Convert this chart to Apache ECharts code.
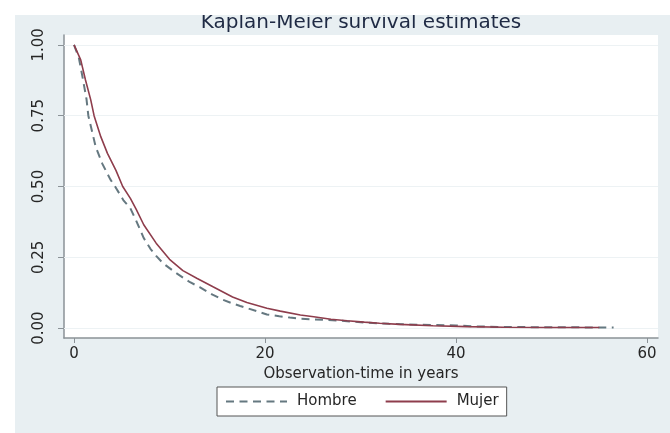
<!DOCTYPE html>
<html>
<head>
<meta charset="utf-8">
<script src="https://cdn.jsdelivr.net/npm/echarts@6/dist/echarts.min.js"></script>
<style>
html,body{margin:0;padding:0;background:#fff;}
#chart{width:670px;height:433px;}
</style>
</head>
<body>
<div id="chart"></div>
<script>
// ---- data ----
const titleText = 'Kaplan-Meier survival estimates';
const xAxisTitle = 'Observation-time in years';
const seriesNames = ['Hombre', 'Mujer'];
const xTicks = [0, 20, 40, 60];
const yTicks = [0, 0.25, 0.5, 0.75, 1];

const timeHombre = [0, 0.2, 0.5, 0.87, 1.3, 1.5, 2.27, 2.97, 3.8, 4.3, 5.2, 5.9, 6.5, 7.3, 8.0, 8.6, 9.35, 10.75, 12.15, 13.2, 14.5, 15.6, 16.6, 17.4, 19.1, 20.2, 21.5, 22.6, 23.7, 25.0, 26.1, 27.5, 30.6, 33.0, 35.9, 38.0, 40.0, 42.0, 44.5, 50.0, 56.5];
const survHombre = [1.0, 1.0, 0.955, 0.89, 0.81, 0.75, 0.64, 0.58, 0.525, 0.5, 0.45, 0.423, 0.38, 0.318, 0.28, 0.255, 0.228, 0.193, 0.162, 0.144, 0.118, 0.1, 0.087, 0.078, 0.06, 0.048, 0.042, 0.037, 0.033, 0.031, 0.029, 0.027, 0.019, 0.015, 0.012, 0.011, 0.009, 0.006, 0.004, 0.003, 0.002];

const timeMujer = [0, 0.2, 0.7, 1.2, 1.75, 2.1, 2.8, 3.5, 4.4, 5.1, 5.9, 6.5, 7.3, 8.6, 10.0, 11.4, 12.9, 14.6, 16.6, 18.1, 20.2, 21.6, 23.7, 25.1, 26.9, 28.6, 30.4, 32.0, 34.1, 37.6, 41.1, 45.0, 50.0, 55.0];
const survMujer = [1.0, 1.0, 0.947, 0.876, 0.806, 0.75, 0.676, 0.617, 0.556, 0.5, 0.458, 0.42, 0.365, 0.3, 0.243, 0.203, 0.175, 0.145, 0.11, 0.09, 0.07, 0.06, 0.046, 0.04, 0.031, 0.026, 0.021, 0.017, 0.013, 0.008, 0.005, 0.003, 0.002, 0.002];

const pairs = (xs, ys) => xs.map((x, i) => [x, ys[i]]);

const FONT = 'DejaVu Sans';
const AXIS_COLOR = '#8b9297';
const TEXT_COLOR = '#262626';

const chart = echarts.init(document.getElementById('chart'), null, {renderer: 'canvas'});
chart.setOption({
  animation: false,
  backgroundColor: '#e8eff2',
  title: {
    text: titleText,
    left: 361,
    textAlign: 'center',
    top: 13,
    padding: 0,
    textStyle: {fontFamily: FONT, fontSize: 20, fontWeight: 'normal', color: '#1f2a44'}
  },
  graphic: [
    {type: 'rect', z: 100, shape: {x: 0, y: 0, width: 670, height: 15}, style: {fill: '#ffffff'}},
    {type: 'rect', z: 100, shape: {x: 0, y: 0, width: 15, height: 433}, style: {fill: '#ffffff'}}
  ],
  grid: {
    left: 64, right: 12, top: 35, bottom: 95,
    show: true, backgroundColor: '#ffffff', borderWidth: 0
  },
  legend: {
    left: 217, top: 387,
    orient: 'horizontal',
    padding: [7, 8, 7, 8],
    itemWidth: 61, itemHeight: 16, itemGap: 28,
    itemStyle: {opacity: 0},
    backgroundColor: '#ffffff',
    borderColor: '#555',
    borderWidth: 1,
    borderRadius: 0,
    textStyle: {fontFamily: FONT, fontSize: 15, color: TEXT_COLOR, padding: [0, 0, 0, 5]},
    data: seriesNames
  },
  xAxis: {
    type: 'value',
    min: -1.05, max: 61.15,
    name: xAxisTitle,
    nameLocation: 'middle',
    nameGap: 26,
    nameTextStyle: {fontFamily: FONT, fontSize: 15, color: TEXT_COLOR},
    axisLine: {show: true, onZero: false, lineStyle: {color: AXIS_COLOR, width: 1.5}},
    axisTick: {show: true, customValues: xTicks, length: 5, lineStyle: {color: AXIS_COLOR, width: 1}},
    axisLabel: {customValues: xTicks, margin: 9, fontFamily: FONT, fontSize: 15, color: TEXT_COLOR},
    splitLine: {show: false}
  },
  yAxis: {
    type: 'value',
    min: -0.035, max: 1.035,
    axisLine: {show: true, onZero: false, lineStyle: {color: AXIS_COLOR, width: 1.5}},
    axisTick: {show: true, customValues: yTicks, length: 6, lineStyle: {color: AXIS_COLOR, width: 1}},
    axisLabel: {customValues: yTicks, rotate: 90, margin: 17, fontFamily: FONT, fontSize: 15, color: TEXT_COLOR,
      formatter: v => v.toFixed(2)},
    splitLine: {show: false}
  },
  series: [
    {
      name: seriesNames[0], type: 'line', showSymbol: false, symbol: 'none',
      data: pairs(timeHombre, survHombre),
      lineStyle: {color: '#657880', width: 2, type: [8, 5.5]},
      itemStyle: {color: '#657880'},
      z: 3,
      markLine: {
        silent: true, symbol: ['none', 'none'], label: {show: false},
        lineStyle: {color: '#edf2f4', width: 1, type: 'solid'},
        data: yTicks.map(v => ({yAxis: v})),
        z: 1
      }
    },
    {
      name: seriesNames[1], type: 'line', showSymbol: false, symbol: 'none',
      data: pairs(timeMujer, survMujer),
      lineStyle: {color: '#8e3d4c', width: 1.6, type: 'solid'},
      itemStyle: {color: '#8e3d4c'},
      z: 4
    }
  ]
});
</script>
</body>
</html>
